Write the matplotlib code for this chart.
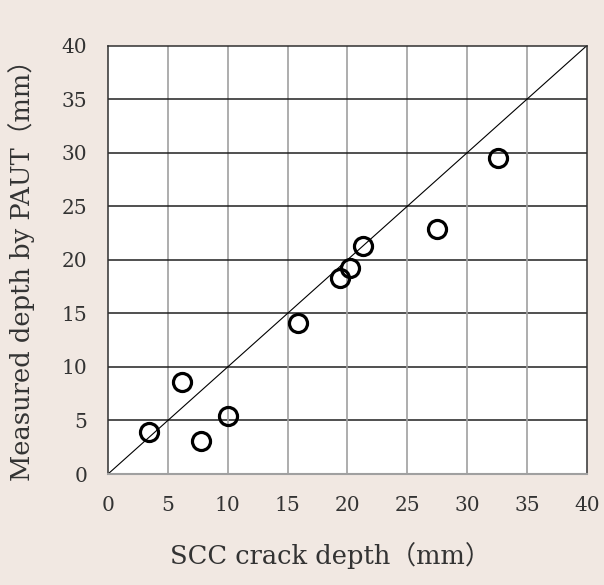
import matplotlib
matplotlib.use('Agg')
import matplotlib.pyplot as plt

# SCC crack depth vs depth measured by PAUT (mm)
crack_depth = [3.4, 6.2, 7.8, 10.0, 15.9, 19.4, 20.2, 21.3, 27.5, 32.6]
paut_depth = [3.9, 8.6, 3.1, 5.4, 14.1, 18.3, 19.2, 21.3, 22.9, 29.5]
ticks = [0, 5, 10, 15, 20, 25, 30, 35, 40]

bg = '#f1e8e2'
txt = '#333333'

fig = plt.figure(figsize=(6.04, 5.85), dpi=100, facecolor=bg)
ax = fig.add_axes([0.1788, 0.1897, 0.7930, 0.7325])
ax.set_facecolor('white')

ax.set_xlim(0, 40)
ax.set_ylim(0, 40)
ax.set_xticks(ticks)
ax.set_yticks(ticks)

# gridlines: vertical grey, horizontal black
for t in ticks[1:-1]:
    ax.axvline(t, color='#a0a0a0', lw=1.2, zorder=1)
    ax.axhline(t, color='#202020', lw=1.1, zorder=1)

ax.plot([0, 40], [0, 40], color='black', lw=0.8, zorder=2)
ax.plot(crack_depth, paut_depth, 'o', ms=13, mfc='none', mec='black', mew=2.3, zorder=3)

for side in ['left', 'top', 'right']:
    ax.spines[side].set_color('#303030')
    ax.spines[side].set_linewidth(1.1)
ax.spines['bottom'].set_color('#a0a0a0')
ax.spines['bottom'].set_linewidth(1.5)

ax.tick_params(length=0, labelsize=14.5, colors=txt)
ax.tick_params(axis='x', pad=16)
ax.tick_params(axis='y', pad=15)
for lab in ax.get_xticklabels() + ax.get_yticklabels():
    lab.set_family('DejaVu Serif')

fam = ['DejaVu Serif', 'Noto Sans CJK JP']
ax.set_xlabel('SCC crack depth（mm）', fontsize=18.5, color=txt, family=fam)
ax.set_ylabel('Measured depth by PAUT（mm）', fontsize=18.5, color=txt, family=fam)
ax.xaxis.set_label_coords(0.465, -0.158)
ax.yaxis.set_label_coords(-0.152, 0.49)

fig.savefig('out.png', dpi=100, facecolor=bg)
plt.close(fig)
